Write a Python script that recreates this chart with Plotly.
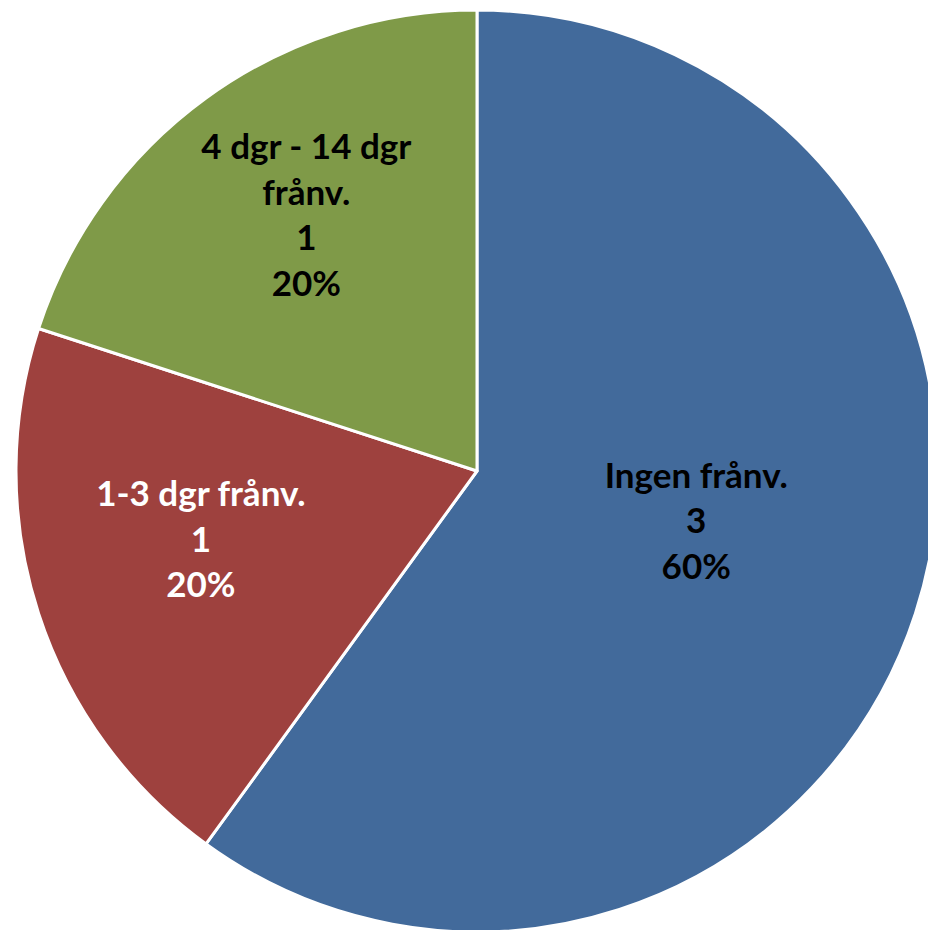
import plotly.graph_objects as go

labels = ["Ingen frånv.", "1-3 dgr frånv.", "4 dgr - 14 dgr frånv."]
text_labels = ["Ingen frånv.", "1-3 dgr frånv.", "4 dgr - 14 dgr<br>frånv."]
values = [3, 1, 1]
colors = ["#426A9B", "#9E413E", "#7F9A48"]
text_colors = ["black", "white", "black"]

W, H = 940, 942
fig = go.Figure(go.Pie(
    labels=labels,
    values=values,
    text=text_labels,
    texttemplate="%{text}<br>%{value}<br>%{percent:.0%}<br>\u00a0",
    textposition="inside",
    insidetextorientation="horizontal",
    sort=False,
    direction="clockwise",
    rotation=0,
    marker=dict(colors=colors, line=dict(color="white", width=3)),
    insidetextfont=dict(family="Lato, Open Sans, sans-serif", size=35, color=text_colors, weight="bold"),
    hoverinfo="label+value+percent",
    domain=dict(x=[16 / W, 938 / W], y=[10 / H, 932 / H]),
    showlegend=False,
))
fig.update_layout(
    width=W, height=H,
    margin=dict(l=0, r=0, t=0, b=0),
    paper_bgcolor="white",
    plot_bgcolor="white",
    uniformtext=dict(minsize=35, mode="show"),
)
fig.write_html(
    "out.html",
    config={"displayModeBar": False},
    post_script="document.body.style.margin='0';document.body.style.overflow='hidden';",
)
